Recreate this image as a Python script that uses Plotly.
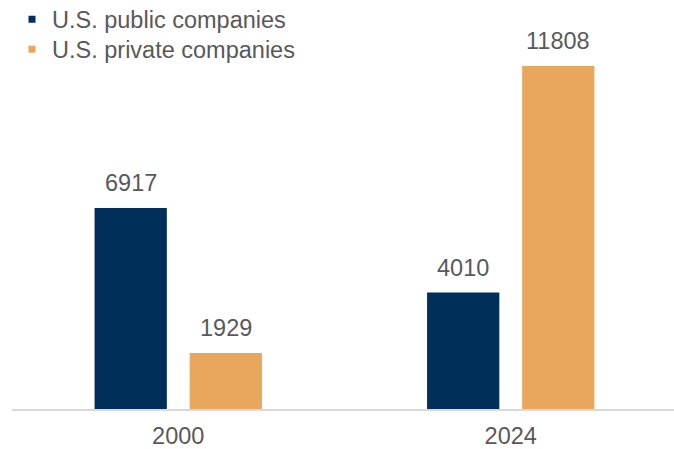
import plotly.graph_objects as go

# Number of U.S. companies, public vs. private-equity backed
years = ["2000", "2024"]
public_companies = [6917, 4010]
private_companies = [1929, 11808]
series_names = ["U.S. public companies", "U.S. private companies"]

NAVY = "#002F5A"
ORANGE = "#E8A75D"
TEXT = "#595959"
FONT = "Liberation Sans, Arial, sans-serif"
FS = 23.5

fig = go.Figure()

# each series gets its own legend box so the two rows can be spaced freely
legend_ids = ["legend", "legend2"]
for name, vals, color, lg in [(series_names[0], public_companies, NAVY, legend_ids[0]),
                              (series_names[1], private_companies, ORANGE, legend_ids[1])]:
    fig.add_trace(go.Bar(
        x=years, y=vals, name=name, marker=dict(color=color, line=dict(width=0)),
        showlegend=False, hoverinfo="x+y",
    ))
    # legend entry with a small square swatch
    fig.add_trace(go.Scatter(
        x=[None], y=[None], mode="markers", name=name, legend=lg,
        marker=dict(symbol="square", size=7, color=color),
    ))

# value labels above each bar
offset = 0.143
for i, year in enumerate(years):
    for dx, vals in [(-offset, public_companies), (offset, private_companies)]:
        fig.add_annotation(
            x=i + dx, y=vals[i], text=str(vals[i]), showarrow=False,
            yanchor="bottom", yshift=10,
            font=dict(family=FONT, size=FS, color=TEXT),
        )

legend_style = dict(
    x=0, xanchor="left", yanchor="top", bgcolor="rgba(0,0,0,0)",
    font=dict(family=FONT, size=FS, color=TEXT),
)

fig.update_layout(
    width=674, height=449,
    margin=dict(l=12, r=0, t=0, b=40, autoexpand=False),
    paper_bgcolor="white", plot_bgcolor="white",
    barmode="group", bargap=0.428, bargroupgap=0.24,
    font=dict(family=FONT, size=FS, color=TEXT),
    legend=dict(y=1.006, **legend_style),
    legend2=dict(y=0.933, **legend_style),
    xaxis=dict(
        type="category", range=[-0.5, 1.491],
        showline=True, linecolor="#D9D9D9", linewidth=2,
        showgrid=False, ticks="", ticklabelstandoff=5,
        tickfont=dict(family=FONT, size=FS, color=TEXT),
    ),
    yaxis=dict(range=[0, 14079], visible=False, showgrid=False, zeroline=False),
)

fig.write_html("out.html")
